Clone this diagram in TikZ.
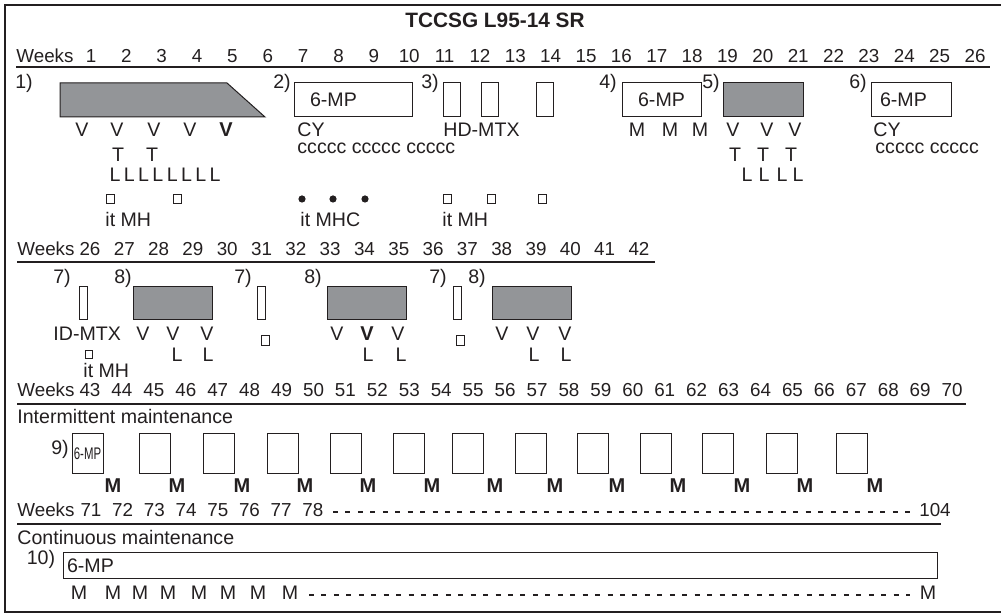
\documentclass[tikz,border=0pt]{standalone}
\usepackage{fontspec}
\setsansfont{Liberation Sans}
\usepackage{graphicx}
\usetikzlibrary{positioning}
\definecolor{BarGray}{HTML}{939598}
\definecolor{InkDark}{HTML}{231F20}

\begin{document}
\begin{tikzpicture}[
    x=0.5pt, y=-0.5pt,
    txt/.style={font=\sffamily\fontsize{9.8}{11}\selectfont, text=InkDark, inner sep=0pt, anchor=base},
    txtleft/.style={txt, anchor=base west},
    weektxt/.style={txt, font=\sffamily\fontsize{9.4}{11}\selectfont},
    weekleft/.style={weektxt, anchor=base west},
    boldtxt/.style={txt, font=\sffamily\bfseries\fontsize{10}{12}\selectfont},
    titletxt/.style={txt, font=\sffamily\bfseries\fontsize{10.4}{12}\selectfont},
    weekrule/.style={draw=InkDark, line width=0.55pt},
    frameline/.style={draw=InkDark, line width=1pt},
    dashrule/.style={draw=InkDark, line width=0.8pt, dash pattern=on 2.5pt off 3.72pt},
    bar/.style={draw=InkDark, fill=BarGray, line width=0.5pt},
    drugbox/.style={rectangle, draw=InkDark, fill=white, line width=0.5pt, inner sep=0pt, outer sep=0pt, anchor=north west, font=\sffamily\fontsize{9.8}{11}\selectfont, text=InkDark},
    graybox/.style={drugbox, fill=BarGray},
    pulsebox/.style={drugbox, minimum width=8.5pt, minimum height=17pt},
    thinbox/.style={drugbox, minimum width=4pt, minimum height=16.5pt},
    cyclebox/.style={graybox, minimum width=39.5pt, minimum height=16.5pt},
    mainbox/.style={drugbox, minimum width=15.5pt, minimum height=20pt},
    ithsq/.style={rectangle, draw=InkDark, line width=0.45pt, inner sep=0pt, minimum width=4pt, minimum height=4.5pt},
    ithdot/.style={circle, fill=InkDark, inner sep=0pt, minimum size=3.6pt}
  ]
    \useasboundingbox (0,0) rectangle (1001,613);

    % Frame and title
    \draw[frameline] (1001,5) -- (5,5) -- (5,612) -- (1001,612);
    \node[titletxt] (title) at (495,28) {TCCSG L95-14 SR};

    % Weeks 1-26
    \node[weekleft] (weeksA) at (16,63) {Weeks};
    \foreach \n in {1,...,26}
      \node[weektxt] (wkA\n) at ({91+(\n-1)*35.36},63) {\n};
    \draw[weekrule] (16,67) -- (990,67);

    % 1) Induction
    \node[txt] (labI) at (24,89) {1)};
    \draw[bar] (60,83) -- (227,83) -- (265,117) -- (60,117) -- cycle;
    \foreach \x [count=\i] in {82,117,154,190}
      \node[txt] (vA\i) at (\x,137) {V};
    \node[boldtxt] (vA5) at (226,137) {V};
    \node[txt] (tA1) at (118,162) {T};
    \node[txt] (tA2) at (152,162) {T};
    \foreach \i in {0,...,7}
      \node[txt] (lA\i) at ({115+\i*14.3},182) {L};
    \node[ithsq] (sqA1) at (110,198.5) {};
    \node[ithsq] (sqA2) at (177,198.5) {};
    \node[txtleft] (ithA) at (105,227) {it MH};

    % 2) Consolidation
    \node[txt] (labII) at (282,89) {2)};
    \node[drugbox, minimum width=59pt, minimum height=17pt, inner xsep=8pt, text width=43pt, align=left] (mpA) at (294,83) {6-MP};
    \node[txtleft] (cyA) at (297,137) {CY};
    \node[txtleft] (ccA) at (297,154) {ccccc ccccc ccccc};
    \foreach \x [count=\i] in {302,333,365}
      \node[ithdot] (dotA\i) at (\x,199) {};
    \node[txtleft] (ithB) at (300,227) {it MHC};

    % 3) HD-MTX
    \node[txt] (labIII) at (430,89) {3)};
    \foreach \x [count=\i] in {443,481,536}
      \node[pulsebox] (hd\i) at (\x,83) {};
    \node[txtleft] (hdmtx) at (443,137) {HD-MTX};
    \foreach \x [count=\i] in {447,491,542}
      \node[ithsq] (sqB\i) at (\x,198.5) {};
    \node[txtleft] (ithC) at (442,227) {it MH};

    % 4) and 5) Reinduction
    \node[txt] (labIV) at (608,89) {4)};
    \node[drugbox, minimum width=39.5pt, minimum height=17pt] (mpB) at (622,83) {6-MP};
    \foreach \x [count=\i] in {637,670,700}
      \node[txt] (mA\i) at (\x,137) {M};
    \node[txt] (labV) at (711,89) {5)};
    \node[graybox, minimum width=40pt, minimum height=17pt] (reind) at (723,83) {};
    \foreach \x [count=\i] in {733,767,795}
      \node[txt] (vB\i) at (\x,137) {V};
    \foreach \x [count=\i] in {735,763,791}
      \node[txt] (tB\i) at (\x,162) {T};
    \foreach \x [count=\i] in {747,764,782,798}
      \node[txt] (lB\i) at (\x,182) {L};

    % 6) Delayed intensification
    \node[txt] (labVI) at (858,89) {6)};
    \node[drugbox, minimum width=40pt, minimum height=17pt, inner xsep=4.5pt, text width=31pt, align=left] (mpC) at (871,83) {6-MP};
    \node[txtleft] (cyB) at (873,137) {CY};
    \node[txtleft] (ccB) at (875,154) {ccccc ccccc};

    % Weeks 26-42
    \node[weekleft] (weeksB) at (17,256) {Weeks};
    \foreach \n in {26,...,42}
      \node[weektxt] (wkB\n) at ({90+(\n-26)*34.31},256) {\n};
    \draw[weekrule] (17,262) -- (655,262);

    % 7) and 8) cycles
    \node[txt] (labVIIa) at (62,284) {7)};
    \node[thinbox] (idA) at (79,287) {};
    \node[txt] (labVIIIa) at (123,284) {8)};
    \node[cyclebox] (cycA) at (133,287) {};
    \node[txtleft] (idmtx) at (53,341) {ID-MTX};
    \foreach \x [count=\i] in {143,173,207}
      \node[txt] (vC\i) at (\x,341) {V};
    \node[txt] (lC1) at (177,362) {L};
    \node[txt] (lC2) at (208,362) {L};
    \node[ithsq, minimum width=3.5pt, minimum height=4pt] (sqC1) at (88.5,354) {};
    \node[txtleft] (ithD) at (83,378) {it MH};

    \node[txt] (labVIIb) at (243,284) {7)};
    \node[thinbox] (idB) at (257,287) {};
    \node[ithsq, minimum height=5pt] (sqC2) at (265.5,340) {};
    \node[txt] (labVIIIb) at (313,284) {8)};
    \node[cyclebox] (cycB) at (327,287) {};
    \node[txt] (vD1) at (337,341) {V};
    \node[boldtxt] (vD2) at (367,341) {V};
    \node[txt] (vD3) at (398,341) {V};
    \node[txt] (lD1) at (368,362) {L};
    \node[txt] (lD2) at (401,362) {L};

    \node[txt] (labVIIc) at (438,284) {7)};
    \node[thinbox] (idC) at (453,287) {};
    \node[ithsq, minimum height=5pt] (sqC3) at (460,340) {};
    \node[txt] (labVIIIc) at (477,284) {8)};
    \node[cyclebox] (cycC) at (492,287) {};
    \foreach \x [count=\i] in {502,533,565}
      \node[txt] (vE\i) at (\x,341) {V};
    \node[txt] (lE1) at (534,362) {L};
    \node[txt] (lE2) at (566,362) {L};

    % Weeks 43-70
    \node[weekleft] (weeksC) at (17,397) {Weeks};
    \foreach \n in {43,...,70}
      \node[weektxt] (wkC\n) at ({90+(\n-43)*31.93},397) {\n};
    \draw[weekrule] (17,404) -- (966,404);

    % 9) Intermittent maintenance
    \node[txtleft] (intMaint) at (17,424) {Intermittent maintenance};
    \node[txt] (labIX) at (60,455) {9)};
    \node[mainbox] (pulse1) at (72,434) {\scalebox{0.68}[1]{\fontsize{8.4}{9}\selectfont 6-MP}};
    \foreach \x [count=\i from 2] in {139,203,267,330,393,452,515,577,640,702,766,836}
      \node[mainbox] (pulse\i) at (\x,434) {};
    \foreach \x [count=\i] in {113,177,242,305,368,432,495,555,617,678,742,805,875}
      \node[boldtxt] (mB\i) at (\x,493) {M};

    % Weeks 71-104
    \node[weekleft] (weeksD) at (17,517) {Weeks};
    \foreach \n in {71,...,78}
      \node[weektxt] (wkD\n) at ({91+(\n-71)*31.7},517) {\n};
    \node[weektxt] (wkD104) at (935,517) {104};
    \draw[dashrule] (333,512) -- (910,512);
    \draw[weekrule] (17,524) -- (941,524);

    % 10) Continuous maintenance
    \node[txtleft] (contMaint) at (17,545) {Continuous maintenance};
    \node[txt] (labX) at (41,565) {10)};
    \node[drugbox, minimum width=437pt, minimum height=13pt, inner xsep=2pt, text width=433pt, align=left] (mpD) at (63,553) {6-MP};
    \foreach \x [count=\i] in {79,113,140,168,199,228,258,290}
      \node[txt] (mC\i) at (\x,600) {M};
    \draw[dashrule] (309,595) -- (910,595);
    \node[txt] (mCend) at (928,600) {M};
\end{tikzpicture}
\end{document}
